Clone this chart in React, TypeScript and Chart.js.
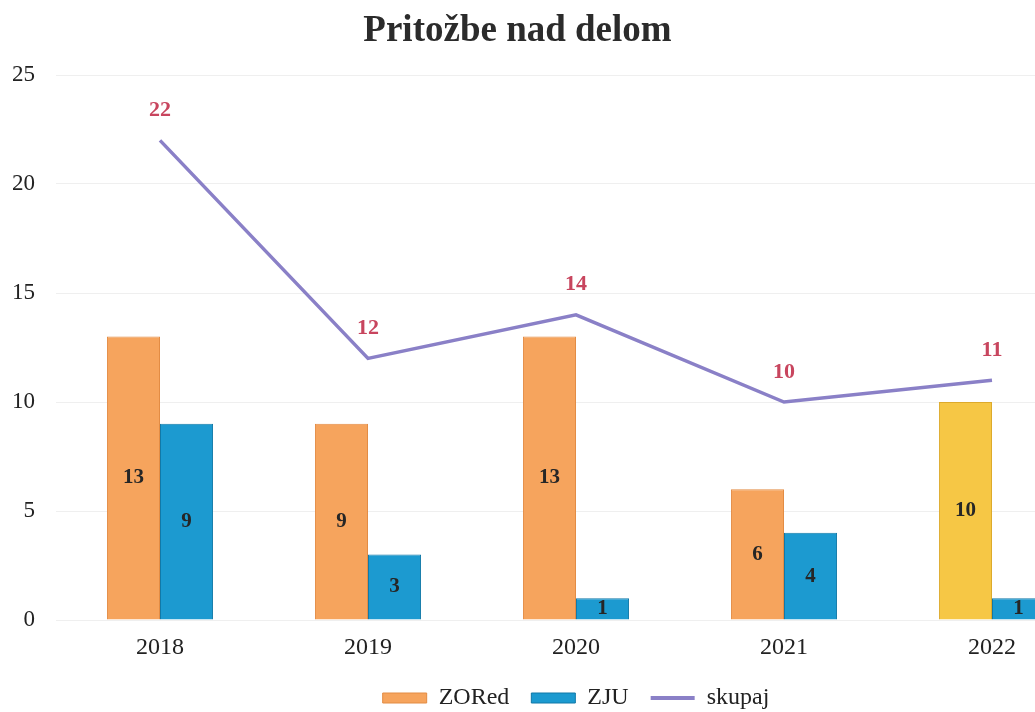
import React, { useEffect, useRef } from "react";
import { Chart, registerables } from "chart.js";

Chart.register(...registerables);

const title = "Pritožbe nad delom";
const categories = ["2018", "2019", "2020", "2021", "2022"];
const zoredValues = [13, 9, 13, 6, 10];
const zjuValues = [9, 3, 1, 4, 1];
const skupajValues = [22, 12, 14, 10, 11];
const seriesNames = ["ZORed", "ZJU", "skupaj"];
const yTicks = [0, 5, 10, 15, 20, 25];

const FONT = "'Liberation Serif', 'Times New Roman', serif";

const orange = "#F6A45D";
const orangeBorder = "#E38C44";
const yellow = "#F6C745";
const yellowBorder = "#DDAA2C";
const blue = "#1C9AD0";
const blueBorder = "#1179A8";
const purple = "#8A80C7";
const crimson = "#C8455E";

const CANVAS_W = 1096;
const CANVAS_H = 720;

const labelsPlugin = {
  id: "valueLabels",
  afterDatasetsDraw(chart: any) {
    const ctx = chart.ctx;
    ctx.save();
    ctx.textAlign = "center";
    ctx.textBaseline = "middle";
    chart.data.datasets.forEach((ds: any, di: number) => {
      const meta = chart.getDatasetMeta(di);
      if (meta.hidden) return;
      meta.data.forEach((el: any, i: number) => {
        const v = ds.data[i];
        if (ds.type === "line") {
          ctx.font = `bold 22px ${FONT}`;
          ctx.fillStyle = crimson;
          ctx.fillText(String(v), el.x, el.y - 30);
        } else {
          ctx.font = `bold 21px ${FONT}`;
          ctx.fillStyle = "#262626";
          ctx.fillText(String(v), el.x, (el.y + el.base) / 2);
        }
      });
    });
    ctx.restore();
  },
};

export default function App() {
  const canvasRef = useRef<HTMLCanvasElement | null>(null);

  useEffect(() => {
    if (!canvasRef.current) return;
    const chart = new Chart(canvasRef.current, {
      type: "bar",
      data: {
        labels: categories,
        datasets: [
          {
            type: "line",
            label: seriesNames[2],
            data: skupajValues,
            borderColor: purple,
            backgroundColor: purple,
            borderWidth: 3.5,
            pointRadius: 0,
            tension: 0,
            order: 0,
          } as any,
          {
            type: "bar",
            label: seriesNames[0],
            data: zoredValues,
            backgroundColor: zoredValues.map((_, i) => (i === 4 ? yellow : orange)),
            borderColor: zoredValues.map((_, i) => (i === 4 ? yellowBorder : orangeBorder)),
            borderWidth: 1,
            barPercentage: 1,
            categoryPercentage: 0.51,
            order: 1,
          },
          {
            type: "bar",
            label: seriesNames[1],
            data: zjuValues,
            backgroundColor: blue,
            borderColor: blueBorder,
            borderWidth: 1,
            barPercentage: 1,
            categoryPercentage: 0.51,
            order: 1,
          },
        ],
      },
      options: {
        responsive: false,
        animation: false,
        layout: { padding: { left: 12, right: 0, top: 75, bottom: 0 } },
        scales: {
          x: {
            grid: { display: false, drawTicks: false },
            border: { display: false },
            ticks: { color: "#222222", font: { family: FONT, size: 24 }, padding: 13 },
            afterFit: (axis: any) => {
              axis.height = 44;
            },
          },
          y: {
            min: 0,
            max: 25,
            afterBuildTicks: (axis: any) => {
              axis.ticks = yTicks.map((v) => ({ value: v }));
            },
            grid: { color: "#efefef", drawTicks: false, lineWidth: 1 },
            border: { display: false },
            ticks: { color: "#222222", font: { family: FONT, size: 23 }, padding: 21 },
            afterFit: (axis: any) => {
              axis.width = 44;
            },
          },
        },
        plugins: {
          title: { display: false },
          tooltip: { enabled: false },
          legend: {
            position: "bottom",
            fullSize: false,
            labels: {
              usePointStyle: true,
              pointStyleWidth: 44,
              boxHeight: 10,
              padding: 22,
              color: "#222222",
              font: { family: FONT, size: 24 },
              sort: (a: any, b: any) => seriesNames.indexOf(a.text) - seriesNames.indexOf(b.text),
              generateLabels: (ch: any) => {
                const items = Chart.defaults.plugins.legend.labels.generateLabels(ch);
                return items.map((it: any) => {
                  if (it.text === seriesNames[2]) {
                    return { ...it, pointStyle: "line", lineWidth: 4, strokeStyle: purple };
                  }
                  const isZ = it.text === seriesNames[0];
                  return {
                    ...it,
                    pointStyle: "rect",
                    fillStyle: isZ ? orange : blue,
                    strokeStyle: isZ ? orangeBorder : blueBorder,
                    lineWidth: 1,
                  };
                });
              },
            },
          },
        },
      },
      plugins: [labelsPlugin],
    } as any);
    return () => chart.destroy();
  }, []);

  return (
    <div
      style={{
        position: "absolute",
        left: 0,
        top: 0,
        width: 1035,
        height: 712,
        overflow: "hidden",
        background: "#ffffff",
      }}
    >
      <canvas
        ref={canvasRef}
        width={CANVAS_W}
        height={CANVAS_H}
        style={{ position: "absolute", left: 0, top: 0 }}
      />
      <div
        style={{
          position: "absolute",
          left: 0,
          top: 9,
          width: 1035,
          textAlign: "center",
          fontFamily: FONT,
          fontWeight: "bold",
          fontSize: 37,
          lineHeight: "40px",
          color: "#2b2b2b",
        }}
      >
        {title}
      </div>
    </div>
  );
}
